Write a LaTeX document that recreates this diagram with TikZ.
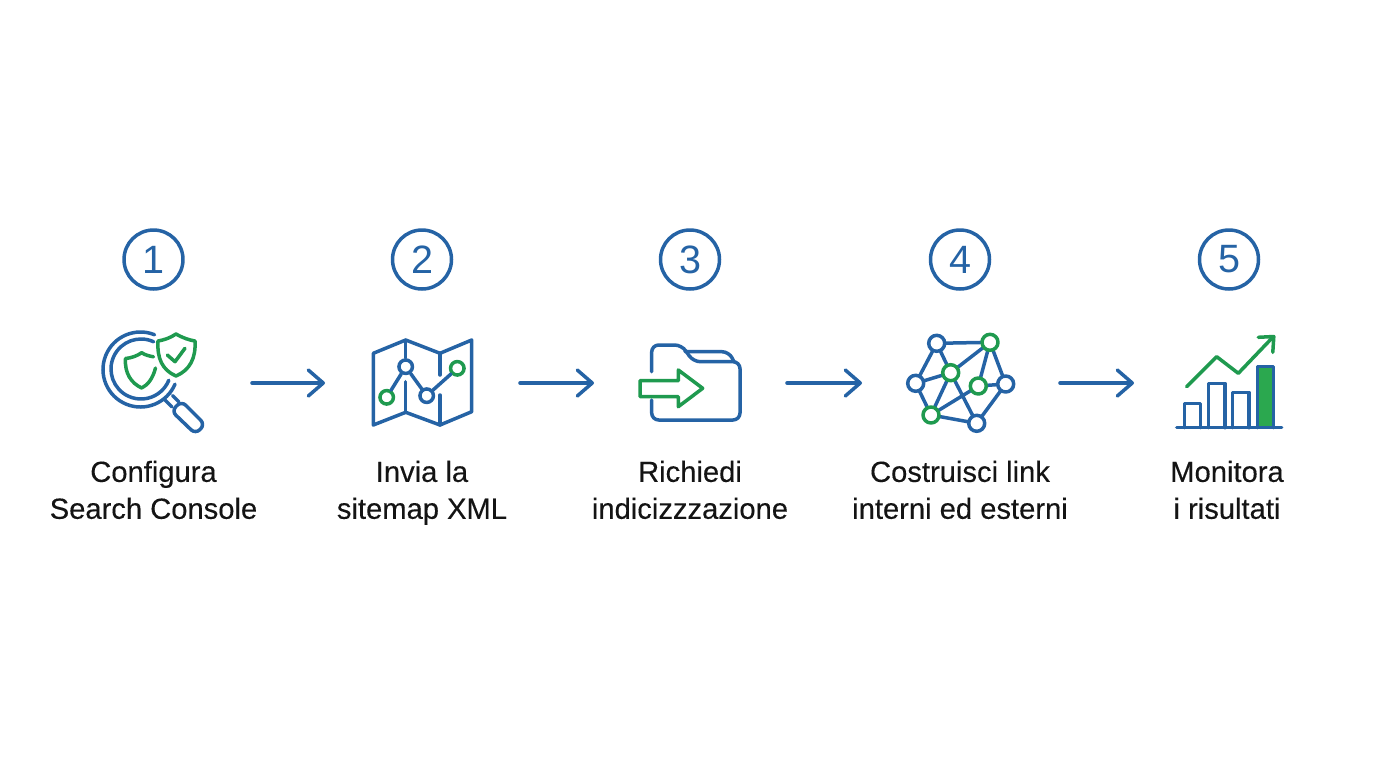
\documentclass[tikz,border=0pt]{standalone}
\usepackage{fontspec}
\setmainfont{Liberation Sans}
\newfontfamily\labelfont[FakeBold=0.25]{Liberation Sans}
\usetikzlibrary{arrows.meta}
\definecolor{stepblue}{HTML}{2563A5}
\definecolor{stepgreen}{HTML}{1F9A4F}
\definecolor{stepfill}{HTML}{2BA84F}
\tikzset{
  blueline/.style={draw=stepblue,line width=0.07cm,line cap=round,line join=round},
  greenline/.style={draw=stepgreen,line width=0.07cm,line cap=round,line join=round},
  numcircle/.style={circle,draw=stepblue,line width=0.07cm,minimum size=1.18cm,inner sep=0pt,
    text=stepblue,font=\fontsize{22.5}{22}\selectfont},
  iconbox/.style={minimum width=3.92cm,minimum height=1cm,inner sep=0pt,outer sep=0pt},
  steplabel/.style={align=center,text=black!92,font=\labelfont\fontsize{16.6}{21}\selectfont,
    execute at begin node=\strut,execute at end node=\strut},
  steparrow/.style={blueline,-{Straight Barb[length=0.3cm,width=0.52cm,round]}},
  bluedot/.style={circle,blueline,fill=white,minimum size=0.27cm,inner sep=0pt},
  greendot/.style={circle,greenline,fill=white,minimum size=0.27cm,inner sep=0pt},
  bigdot/.style={minimum size=0.32cm},
}
\begin{document}
\begin{tikzpicture}[x=0.02cm,y=-0.02cm]
  \useasboundingbox (0,0) rectangle (1376,768);

  % numbers
  \node[numcircle] (num1) at (153.5,259.5) {1};
  \node[numcircle] (num2) at (422,259.5) {2};
  \node[numcircle] (num3) at (690,259.5) {3};
  \node[numcircle] (num4) at (960,259.5) {4};
  \node[numcircle] (num5) at (1229,259.5) {5};

  % labels
  \node[steplabel] (text1) at (153.5,495.3) {Configura\\Search Console};
  \node[steplabel] (text2) at (422,495.3) {Invia la\\sitemap XML};
  \node[steplabel] (text3) at (690,495.3) {Richiedi\\indicizzzazione};
  \node[steplabel] (text4) at (960,495.3) {Costruisci link\\interni ed esterni};
  \node[steplabel] (text5) at (1227,495.3) {Monitora\\i risultati};

  % arrows between the icons
  \node[iconbox] (icon1) at (154,383) {};
  \node[iconbox] (icon2) at (422,383) {};
  \node[iconbox] (icon3) at (690,383) {};
  \node[iconbox] (icon4) at (960,383) {};
  \node[iconbox] (icon5) at (1229,383) {};
  \draw[steparrow] (icon1.east) -- ([xshift=0.02cm]icon2.west);
  \draw[steparrow] (icon2.east) -- ([xshift=0.04cm]icon3.west);
  \draw[steparrow] ([xshift=-0.02cm]icon3.east) -- ([xshift=0cm]icon4.west);
  \draw[steparrow] ([xshift=0.04cm]icon4.east) -- ([xshift=0.06cm]icon5.west);

  % magnifier and shields
  \draw[blueline] (140.5,369.5) ++(-68:37.5) arc[start angle=-68,end angle=-337,radius=37.5];
  \draw[blueline] (141,369) ++(-65:30) arc[start angle=-65,end angle=-338,radius=30];
  \draw[blueline] (165,400) -- (172,407) (172.5,395.5) -- (179,402);
  \draw[blueline,rounded corners=0.12cm] (181.5,401) -- (205,424.5) -- (195.5,434) -- (171.5,411) -- cycle;
  \draw[greenline] (153.5,356.8) .. controls (149,356) and (145,355) .. (141.7,352.7)
    .. controls (137,356) and (131,358) .. (125.5,358.5)
    .. controls (124.5,373) and (131,383) .. (141.7,388)
    .. controls (148,385) and (153,378) .. (155.5,368);
  \draw[greenline] (176,334) .. controls (183,338) and (189,340) .. (195,341)
    .. controls (196,358) and (190,370) .. (176,376)
    .. controls (162,370) and (157,358) .. (158,341)
    .. controls (164,340) and (170,338) .. (176,334) -- cycle;
  \draw[greenline] (167.3,355) -- (175,361.7) -- (185,348.3);

  % map
  \draw[blueline] (373.3,353.3) -- (405.7,340) -- (440,353.3) -- (471.7,340) -- (471.7,411.7)
    -- (440,425) -- (405.7,412.3) -- (373.3,425) -- cycle;
  \draw[blueline] (405.7,340) -- (405.7,358) (405.7,381.7) -- (405.7,412.3);
  \draw[blueline] (440,353.3) -- (440,375) (440,395) -- (440,425);
  \node[greendot] (map1) at (386.7,397.3) {};
  \node[bluedot] (map2) at (405.7,366.7) {};
  \node[bluedot] (map3) at (426.7,395.7) {};
  \node[greendot] (map4) at (457.3,368.3) {};
  \draw[blueline] (map1) -- (map2) -- (map3) -- (map4);

  % folder
  \draw[blueline,rounded corners=0.14cm] (651.7,371.7) -- (651.7,345) -- (681.7,345) -- (693.3,361.7)
    -- (740,361.7) -- (740,420) -- (651.7,420) -- (651.7,400);
  \draw[blueline,rounded corners=0.14cm] (685,351.7) -- (729,351.7) -- (734,361.7);
  \draw[greenline] (640,380.7) -- (678.3,380.7) -- (678.3,370) -- (702.7,388.3) -- (678.3,406.7)
    -- (678.3,396.7) -- (640,396.7) -- cycle;

  % network
  \coordinate (neta) at (936.7,343.3);
  \coordinate (netb) at (990,342.3);
  \coordinate (netc) at (950.7,372.7);
  \coordinate (netd) at (915.7,383.3);
  \coordinate (nete) at (978.3,386);
  \coordinate (netf) at (1005.7,384);
  \coordinate (netg) at (931,415);
  \coordinate (neth) at (976.7,423.3);
  \draw[blueline] (neta) -- (netb) (neta) -- (netc) (neta) -- (netd) (netb) -- (netc)
    (netb) -- (nete) (netb) -- (netf) (netc) -- (netd) (netc) -- (netg) (netc) -- (neth)
    (netd) -- (netg) (nete) -- (netf) (nete) -- (netg) (netf) -- (neth) (netg) -- (neth);
  \node[bluedot,bigdot] at (neta) {};
  \node[greendot,bigdot] at (netb) {};
  \node[greendot,bigdot] at (netc) {};
  \node[bluedot,bigdot] at (netd) {};
  \node[greendot,bigdot] at (nete) {};
  \node[bluedot,bigdot] at (netf) {};
  \node[greendot,bigdot] at (netg) {};
  \node[bluedot,bigdot] at (neth) {};

  % bars and trend
  \draw[blueline,fill=stepfill] (1257.7,427.7) -- (1257.7,366.7) -- (1273.7,366.7) -- (1273.7,427.7);
  \draw[blueline] (1184.3,427.7) -- (1184.3,403.3) -- (1200.7,403.3) -- (1200.7,427.7);
  \draw[blueline] (1208.3,427.7) -- (1208.3,383.3) -- (1225,383.3) -- (1225,427.7);
  \draw[blueline] (1232.7,427.7) -- (1232.7,392.3) -- (1249,392.3) -- (1249,427.7);
  \draw[blueline] (1176.7,427.7) -- (1281.7,427.7);
  \draw[greenline] (1186.7,386.7) -- (1216.7,356.7) -- (1238.3,373.3) -- (1273.3,336.7);
  \draw[greenline] (1258.3,337.3) -- (1273.8,336.5) -- (1272.8,352.3);
\end{tikzpicture}
\end{document}
